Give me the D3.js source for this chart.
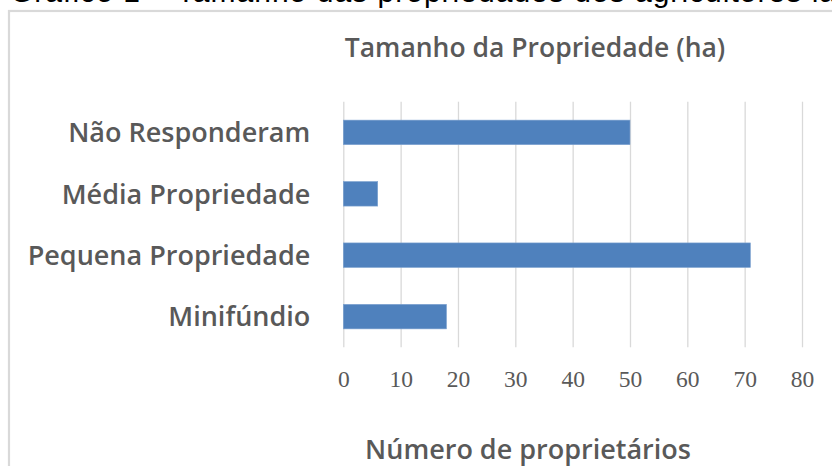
<!DOCTYPE html>
<html>
<head>
<meta charset="utf-8">
<script src="https://cdn.jsdelivr.net/npm/d3@7"></script>
<style>
  html, body { margin: 0; padding: 0; background: #fff; overflow: hidden; }
  svg { display: block; }
</style>
</head>
<body>
<svg id="chart" width="832" height="466"></svg>
<script>
// ---- data ----
const categories = ["Não Responderam", "Média Propriedade", "Pequena Propriedade", "Minifúndio"];
const values = [50, 6, 71, 18];
const xTicks = [0, 10, 20, 30, 40, 50, 60, 70, 80];
const chartTitle = "Tamanho da Propriedade (ha)";
const xAxisTitle = "Número de proprietários";
const captionText = "Gráfico 1 – Tamanho das propriedades dos agricultores la";

// ---- layout ----
const W = 832, H = 466;
const plot = { left: 343.3, right: 802, top: 101.7, bottom: 347.3 };
const gray = "#595959";

const svg = d3.select("#chart");

// caption sliver at top (cut off, as in the source)
svg.append("text")
  .attr("x", 10).attr("y", 2)
  .attr("font-family", "Liberation Sans, Arial, sans-serif")
  .attr("font-size", 30)
  .attr("fill", "#000")
  .attr("textLength", 826)
  .attr("lengthAdjust", "spacing")
  .text(captionText);

// chart border
svg.append("rect")
  .attr("x", 9).attr("y", 11)
  .attr("width", 900).attr("height", 600)
  .attr("fill", "none")
  .attr("stroke", "#d9d9d9")
  .attr("stroke-width", 2.2);

// scales
const x = d3.scaleLinear().domain([0, 80]).range([plot.left, plot.right]);
const y = d3.scaleBand().domain(categories)
  .range([plot.top, plot.bottom])
  .paddingInner(0.6).paddingOuter(0.3);

// x axis with gridlines
const xAxis = svg.append("g")
  .attr("transform", `translate(0,${plot.bottom})`)
  .call(d3.axisBottom(x).tickValues(xTicks)
    .tickSize(-(plot.bottom - plot.top)).tickPadding(23.5));
xAxis.select(".domain").remove();
xAxis.selectAll(".tick line").attr("stroke", "#d9d9d9").attr("stroke-width", 1.3);
xAxis.selectAll(".tick text")
  .attr("font-family", "Liberation Serif, 'Times New Roman', serif")
  .attr("font-size", 23.5)
  .attr("fill", gray);

// bars
svg.append("g").selectAll("rect")
  .data(values)
  .join("rect")
  .attr("x", x(0))
  .attr("y", (d, i) => y(categories[i]))
  .attr("width", d => x(d) - x(0))
  .attr("height", y.bandwidth())
  .attr("fill", "#4f81bd")
  .attr("stroke", "#7fa3d0")
  .attr("stroke-width", 0.6);

// y axis labels
const yAxis = svg.append("g")
  .attr("transform", `translate(${plot.left},0)`)
  .call(d3.axisLeft(y).tickSize(0).tickPadding(33));
yAxis.select(".domain").remove();
yAxis.selectAll(".tick text")
  .attr("font-family", "'Open Sans', sans-serif")
  .attr("font-size", 27)
  .attr("font-weight", 600)
  .attr("fill", gray)
  .attr("dy", "0.36em");

// chart title
svg.append("text")
  .attr("x", 535).attr("y", 57)
  .attr("text-anchor", "middle")
  .attr("font-family", "'Open Sans', sans-serif")
  .attr("font-size", 26.5)
  .attr("font-weight", 600)
  .attr("fill", gray)
  .text(chartTitle);

// x axis title
svg.append("text")
  .attr("x", 528).attr("y", 459)
  .attr("text-anchor", "middle")
  .attr("font-family", "'Open Sans', sans-serif")
  .attr("font-size", 27)
  .attr("font-weight", 600)
  .attr("fill", gray)
  .text(xAxisTitle);
</script>
</body>
</html>
